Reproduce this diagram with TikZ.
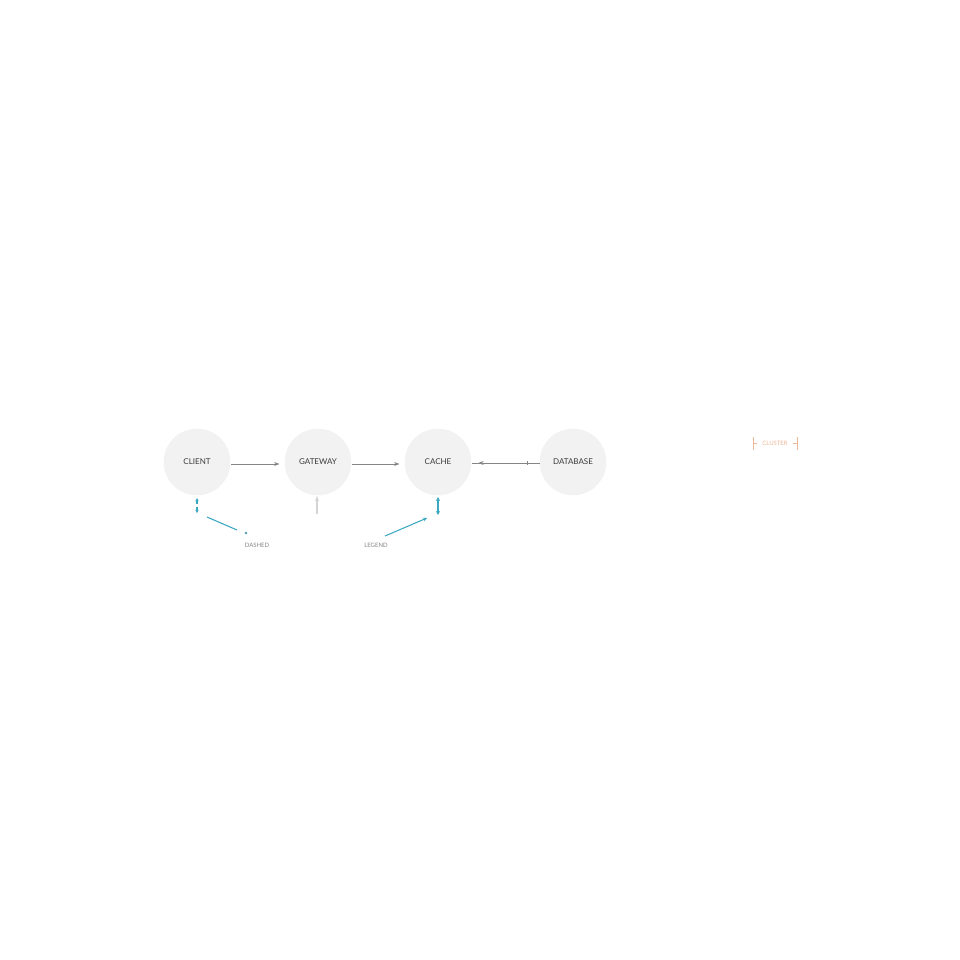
\documentclass[tikz,border=0pt]{standalone}
\usepackage{fontspec}
\setmainfont{Lato}
\usetikzlibrary{arrows.meta,decorations.markings}
\definecolor{nodefill}{HTML}{F2F2F2}
\definecolor{txt}{HTML}{3A3A3A}
\definecolor{arr}{HTML}{858585}
\definecolor{teal}{HTML}{3AA8C0}
\definecolor{faint}{HTML}{D4D4D4}
\definecolor{orangec}{HTML}{EDB898}
\tikzset{
  svc/.style={circle, fill=nodefill, draw=nodefill!80!gray!40, line width=0.3pt, minimum size=49.5pt, inner sep=0pt, text=txt, font=\fontsize{6}{7}\selectfont},
  flow/.style={draw=arr, line width=0.6pt, -{Stealth[length=4pt,width=3pt]}, shorten >=4pt},
  tealar/.style={draw=teal, line width=0.8pt},
  lbl/.style={text=arr, font=\fontsize{4.5}{5}\selectfont, inner sep=0pt},
}
\begin{document}
\begin{tikzpicture}[x=0.75pt,y=-0.75pt]
\useasboundingbox (0,0) rectangle (960,960);
\fill[white] (0,0) rectangle (960,960);
\node[svc] (client) at (197,462) {CLIENT};
\node[svc] (gateway) at (318,462) {GATEWAY};
\node[svc] (cache) at (438,462) {CACHE};
\node[svc] (db) at (573,462) {DATABASE};
\draw[flow] (client.east) ++(1,2) coordinate (c1) -- (c1 -| gateway.west);
\draw[flow] (gateway.east) ++(1,2) coordinate (g2) -- (g2 -| cache.west);
\draw[arr, line width=0.6pt, postaction={decorate}, decoration={markings,
   mark=at position 0.17 with {\arrow{Stealth[length=4pt,width=3pt,reversed]}},
   mark=at position 0.82 with {\arrow{Bar[width=3pt]}}}]
   (cache.east) ++(1,1) coordinate (k1) -- (k1 -| db.west);
% teal under client
\coordinate (ct1) at (197,498);
\coordinate (ct2) at (197,513);
\draw[tealar, densely dashed, {Stealth[length=2.5pt,width=2.5pt]}-{Stealth[length=2.5pt,width=2.5pt]}] (ct1) -- (ct2);
\coordinate (cl1) at (207,517);
\coordinate (cl2) at (237,530);
\draw[tealar] (cl1) -- (cl2);
\fill[teal!70!gray] (246,533) circle (1.3);
\node[lbl] (dashed) at (257,545) {DASHED};
% faint under gateway
\coordinate (gt1) at (317,514);
\coordinate (gt2) at (317,496);
\draw[faint, line width=0.8pt, -{Stealth[length=4pt,width=3pt]}] (gt1) -- (gt2);
% teal under cache
\coordinate (kt1) at (438,497);
\coordinate (kt2) at (438,515);
\draw[tealar, {Stealth[length=3pt,width=3pt]}-{Stealth[length=3pt,width=3pt]}] (kt1) -- (kt2);
\coordinate (kl1) at (385,536);
\coordinate (kl2) at (427,518);
\draw[tealar, -{Stealth[length=3pt,width=3pt]}] (kl1) -- (kl2);
\node[lbl] (legend) at (376,545) {LEGEND};
% orange cluster label
\node[text=orangec, font=\fontsize{4.5}{5}\selectfont, inner sep=0pt] (cluster) at (775,443) {CLUSTER};
\draw[orangec, line width=0.5pt] (753,437) -- (753,450) (753,443) -- (757,443);
\draw[orangec, line width=0.5pt] (797,437) -- (797,450) (797,443) -- (793,443);
\end{tikzpicture}
\end{document}
